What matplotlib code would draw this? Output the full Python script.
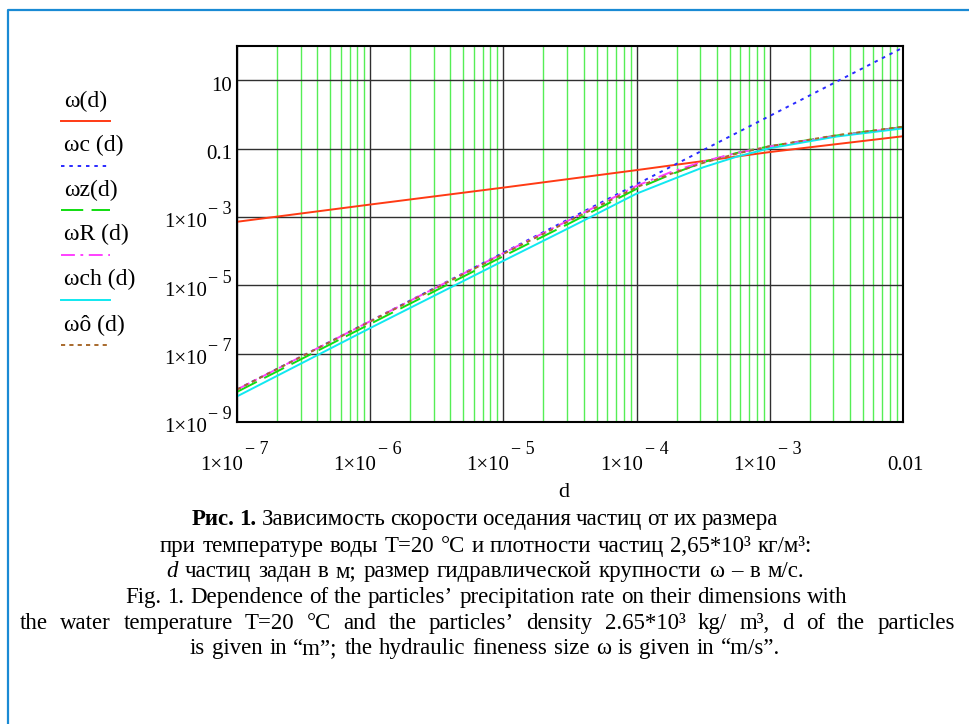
import numpy as np
import matplotlib
matplotlib.use('Agg')
import matplotlib.pyplot as plt
from matplotlib.lines import Line2D
from matplotlib.transforms import offset_copy
from matplotlib.ticker import LogLocator, NullFormatter, NullLocator

plt.rcParams['font.family'] = ['Liberation Serif', 'DejaVu Serif']
plt.rcParams['lines.scale_dashes'] = False

# particle size d (m) - decade points and a finer set for the curved formulas
d_dec = [1e-7, 1e-6, 1e-5, 1e-4, 1e-3, 1e-2]
d_fine = [1e-7, 1e-6, 1e-5, 3.16e-5, 1e-4, 1.78e-4, 3.16e-4, 5.62e-4, 1e-3, 3.16e-3, 1e-2]

# settling velocities (m/s)
w_main = [7.2e-4, 2.3e-3, 7.2e-3, 2.34e-2, 7.9e-2, 0.229]        # omega(d)
w_c = [9e-9, 9e-7, 9e-5, 9e-3, 0.9, 90]                          # omega_c(d)
w_z = [7.6e-9, 7.4e-7, 7.1e-5, 6.6e-4, 6.6e-3, 0.017, 0.0398, 0.0741, 0.117, 0.240, 0.427]
w_R = [8.9e-9, 8.9e-7, 8.7e-5, 8.3e-4, 8.1e-3, 0.020, 0.0417, 0.0741, 0.115, 0.234, 0.417]
w_ch = [5.6e-9, 5.6e-7, 5.2e-5, 4.9e-4, 4.8e-3, 0.0117, 0.0282, 0.0575, 0.102, 0.224, 0.389]
w_o = [8.9e-9, 8.7e-7, 8.3e-5, 7.8e-4, 7.4e-3, 0.0178, 0.038, 0.0708, 0.117, 0.245, 0.437]

# tick labels in Mathcad form: (base, exponent)
x_ticks = [1e-7, 1e-6, 1e-5, 1e-4, 1e-3, 1e-2]
x_labels = [('1×10', '− 7'), ('1×10', '− 6'), ('1×10', '− 5'),
            ('1×10', '− 4'), ('1×10', '− 3'), ('0.01', None)]
y_ticks = [1e-9, 1e-7, 1e-5, 1e-3, 0.1, 10]
y_labels = [('1×10', '− 9'), ('1×10', '− 7'), ('1×10', '− 5'),
            ('1×10', '− 3'), ('0.1', None), ('10', None)]

# series styles: label, x, y, colour, linestyle
series = [
    ('ω(d)', d_dec, w_main, '#ff3a14', '-'),
    ('ωc (d)', d_dec, w_c, '#2a2aff', (0, (2.5, 3.5))),
    ('ωz(d)', d_fine, w_z, '#10dd10', (0, (16, 6))),
    ('ωR (d)', d_fine, w_R, '#ff40ff', (0, (10, 4, 2, 4))),
    ('ωch (d)', d_fine, w_ch, '#10e8f0', '-'),
    ('ωô (d)', d_fine, w_o, '#a8692c', (0, (3, 3))),
]

W, H = 970, 724
fig = plt.figure(figsize=(W / 100, H / 100), dpi=100)
ax = fig.add_axes([237 / W, 1 - 422 / H, 666 / W, 376 / H])
ax.set_xscale('log')
ax.set_yscale('log')
ax.set_xlim(1e-7, 1e-2)
ax.set_ylim(1e-9, 100)

for lab, xs, ys, col, ls in series:
    ax.plot(xs, ys, color=col, linestyle=ls, lw=1.4)

ax.set_xticks(x_ticks)
ax.set_xticklabels([])
ax.set_yticks(y_ticks)
ax.set_yticklabels([])
ax.xaxis.set_minor_locator(LogLocator(base=10, subs=np.arange(2, 10)))
ax.xaxis.set_minor_formatter(NullFormatter())
ax.yaxis.set_minor_locator(NullLocator())
ax.tick_params(which='both', length=0)
ax.set_axisbelow(True)
ax.grid(which='minor', axis='x', color='#55ee55', lw=1)
ax.grid(which='major', axis='both', color='#303030', lw=1)
for s in ax.spines.values():
    s.set_linewidth(1.5)

# tick labels with large Mathcad-like exponents
tfs, efs = 15, 13
ytr = ax.get_yaxis_transform()
for v, (base, ex) in zip(y_ticks, y_labels):
    if ex is None:
        ax.text(0, v, base, fontsize=tfs, ha='right', va='baseline',
                transform=offset_copy(ytr, fig, x=-5, y=-10.5, units='dots'))
    else:
        ax.text(0, v, base, fontsize=tfs, ha='right', va='baseline',
                transform=offset_copy(ytr, fig, x=-30, y=-10.5, units='dots'))
        ax.text(0, v, ex, fontsize=efs, ha='left', va='baseline',
                transform=offset_copy(ytr, fig, x=-29, y=2.5, units='dots'))
xtr = ax.get_xaxis_transform()
for v, (base, ex) in zip(x_ticks, x_labels):
    if ex is None:
        ax.text(v, 0, base, fontsize=tfs, ha='center', va='baseline',
                transform=offset_copy(xtr, fig, x=2, y=-47.5, units='dots'))
    else:
        ax.text(v, 0, base, fontsize=tfs, ha='right', va='baseline',
                transform=offset_copy(xtr, fig, x=6, y=-47.5, units='dots'))
        ax.text(v, 0, ex, fontsize=efs, ha='left', va='baseline',
                transform=offset_copy(xtr, fig, x=8, y=-32.5, units='dots'))

ax.set_xlabel('d', fontsize=16)
ax.xaxis.set_label_coords(0.49, -0.162)

# legend in Mathcad style: label above a line sample
leg_text_y = [101, 145, 190, 234, 279, 325]
leg_line_y = [121, 166, 210, 255, 300, 345]
for (lab, xs, ys, col, ls), ty, ly in zip(series, leg_text_y, leg_line_y):
    fig.text(64 / W, 1 - ty / H, lab, fontsize=17, va='center', ha='left')
    fig.add_artist(Line2D([61 / W, 110 / W], [1 - ly / H, 1 - ly / H],
                          color=col, linestyle=ls, lw=1.4))

# blue frame (left and top)
fig.add_artist(Line2D([8 / W, 8 / W, 1], [0, 1 - 10 / H, 1 - 10 / H],
                      color='#1a8ad4', lw=1.6))

# caption, each line spread between the edges it has in the original
fs = 16.5
renderer = fig.canvas.get_renderer()


def justified(y, words, x_left, x_right):
    items = []
    for txt, kw in words:
        t = fig.text(0, 1 - (y + 6) / H, txt, fontsize=fs, va='baseline', ha='left', **kw)
        items.append((t, t.get_window_extent(renderer).width))
    total = sum(w for _, w in items)
    gap = (x_right - x_left - total) / (len(items) - 1)
    x = x_left
    for t, w in items:
        t.set_x(x / W)
        x += w + gap


def words_of(text, kw=None):
    return [(wd, kw or {}) for wd in text.split(' ')]


bold = {'fontweight': 'bold'}
ital = {'fontstyle': 'italic'}
justified(519, words_of('Рис. 1.', bold) +
          words_of('Зависимость скорости оседания частиц от их размера'), 192, 778)
justified(546, words_of('при температуре воды Т=20 °С и плотности частиц 2,65*10³ кг/м³:'),
          160, 812)
justified(571, words_of('d', ital) +
          words_of('частиц задан в м; размер гидравлической крупности ω – в м/с.'), 166, 804)
justified(597, words_of('Fig. 1. Dependence of the particles’ precipitation rate on their dimensions with'),
          125, 848)
justified(623, words_of('the water temperature T=20 °C and the particles’ density 2.65*10³ kg/ m³, '
                        'd of the particles'), 20, 955)
justified(648, words_of('is given in “m”; the hydraulic fineness size ω is given in “m/s”.'),
          190, 780)

fig.savefig('out.png', dpi=100)
